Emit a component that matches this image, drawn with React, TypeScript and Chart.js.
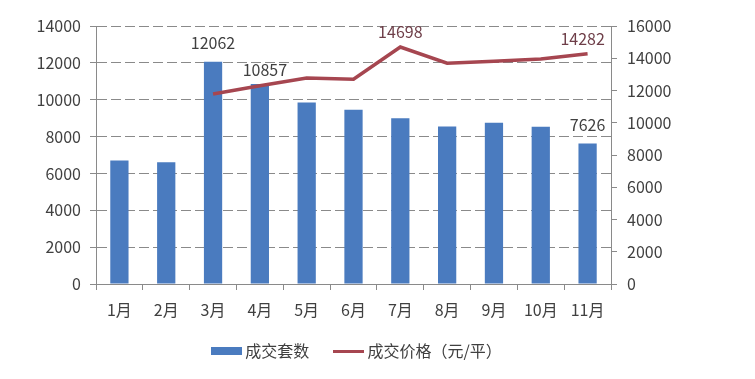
import React, { useEffect, useRef } from "react";
import { Chart, registerables } from "chart.js";

Chart.register(...registerables);

const categories = ["1月", "2月", "3月", "4月", "5月", "6月", "7月", "8月", "9月", "10月", "11月"];
const volumeValues = [6700, 6600, 12062, 10857, 9850, 9450, 9000, 8550, 8750, 8530, 7626];
const priceValues: (number | null)[] = [null, null, 11780, 12300, 12780, 12700, 14698, 13690, 13820, 13960, 14282];
const volumeLabelIndexes = [2, 3, 10];
const priceLabelIndexes = [6, 10];
const leftTicks = [0, 2000, 4000, 6000, 8000, 10000, 12000, 14000];
const rightTicks = [0, 2000, 4000, 6000, 8000, 10000, 12000, 14000, 16000];

const BAR_COLOR = "#4a7bbf";
const LINE_COLOR = "#a64650";
const AXIS_COLOR = "#8a8a8a";
const TEXT_COLOR = "#404040";
const FONT = "'Noto Sans CJK SC', 'Noto Sans', sans-serif";

function makeSwatch(w: number, h: number, color: string) {
  const c = document.createElement("canvas");
  c.width = w;
  c.height = h;
  const ctx = c.getContext("2d")!;
  ctx.fillStyle = color;
  ctx.fillRect(0, 0, w, h);
  return c;
}

const labelPlugin = {
  id: "valueLabels",
  afterDatasetsDraw(chart: any) {
    const ctx = chart.ctx;
    const x = chart.scales.x;
    const yL = chart.scales.yL;
    const yR = chart.scales.yR;
    ctx.save();
    ctx.font = `16px ${FONT}`;
    ctx.textAlign = "center";
    ctx.textBaseline = "middle";
    ctx.fillStyle = TEXT_COLOR;
    volumeLabelIndexes.forEach((i) => {
      const v = volumeValues[i];
      const dx = i === 3 ? 5 : 0;
      const off = i === 3 ? 14 : 19;
      ctx.fillText(String(v), x.getPixelForValue(i) + dx, yL.getPixelForValue(v) - off);
    });
    ctx.fillStyle = "#6e3e48";
    priceLabelIndexes.forEach((i) => {
      const v = priceValues[i] as number;
      const dx = i === 10 ? -5 : 0;
      ctx.fillText(String(v), x.getPixelForValue(i) + dx, yR.getPixelForValue(v) - 15);
    });
    ctx.restore();
  },
};

export default function App() {
  const ref = useRef<HTMLCanvasElement | null>(null);
  useEffect(() => {
    document.body.style.margin = "0";
    const barSwatch = makeSwatch(31, 8, BAR_COLOR);
    const lineSwatch = makeSwatch(31, 3, LINE_COLOR);
    const plain = (v: any) => String(v);
    const chart = new Chart(ref.current!, {
      type: "bar",
      data: {
        labels: categories,
        datasets: [
          {
            type: "line",
            label: "成交价格（元/平）",
            data: priceValues,
            yAxisID: "yR",
            borderColor: LINE_COLOR,
            backgroundColor: LINE_COLOR,
            borderWidth: 3.5,
            pointRadius: 0,
            tension: 0,
            order: 0,
            pointStyle: lineSwatch as any,
          },
          {
            type: "bar",
            label: "成交套数",
            data: volumeValues,
            yAxisID: "yL",
            backgroundColor: BAR_COLOR,
            categoryPercentage: 1,
            barPercentage: 0.39,
            order: 1,
            pointStyle: barSwatch as any,
          },
        ],
      },
      options: {
        responsive: false,
        animation: false,
        layout: { padding: { left: 0, right: 37, top: 26, bottom: 10 } },
        plugins: {
          tooltip: { enabled: false },
          legend: {
            position: "bottom",
            reverse: true,
            labels: {
              usePointStyle: true,
              pointStyleWidth: 21,
              padding: 22,
              color: TEXT_COLOR,
              font: { family: FONT, size: 16 },
              generateLabels: (c: any) => {
                const items = Chart.defaults.plugins.legend.labels.generateLabels(c);
                items.forEach((it: any) => {
                  if (it.datasetIndex === 1) it.text = it.text + "  ";
                });
                return items;
              },
            },
          },
        },
        scales: {
          x: {
            grid: { display: true, drawOnChartArea: false, drawTicks: true, tickLength: 6, color: AXIS_COLOR, offset: true },
            border: { display: true, color: AXIS_COLOR, width: 1 },
            ticks: { color: TEXT_COLOR, font: { family: FONT, size: 16 }, padding: 10, maxRotation: 0 },
            afterFit: (s: any) => {
              s.height = 37;
            },
          },
          yL: {
            position: "left",
            min: 0,
            max: 14000,
            afterBuildTicks: (s: any) => {
              s.ticks = leftTicks.map((v) => ({ value: v }));
            },
            grid: { color: AXIS_COLOR, lineWidth: 1, drawTicks: true, tickLength: 6, tickColor: AXIS_COLOR, tickBorderDash: [] },
            border: { display: true, color: AXIS_COLOR, width: 1, dash: [10, 4] },
            ticks: { color: TEXT_COLOR, font: { family: FONT, size: 16 }, padding: 9, callback: plain },
            afterFit: (s: any) => {
              s.width = 96;
            },
          },
          yR: {
            position: "right",
            min: 0,
            max: 16000,
            afterBuildTicks: (s: any) => {
              s.ticks = rightTicks.map((v) => ({ value: v }));
            },
            grid: { drawOnChartArea: false, drawTicks: true, tickLength: 6, color: AXIS_COLOR },
            border: { display: true, color: AXIS_COLOR, width: 1 },
            ticks: { color: TEXT_COLOR, font: { family: FONT, size: 16 }, padding: 10, callback: plain },
            afterFit: (s: any) => {
              s.width = 107;
            },
          },
        },
      },
      plugins: [labelPlugin],
    });
    return () => chart.destroy();
  }, []);
  return (
    <div style={{ width: 755, height: 379, background: "#fff" }}>
      <canvas ref={ref} width={755} height={379} style={{ display: "block" }} />
    </div>
  );
}
